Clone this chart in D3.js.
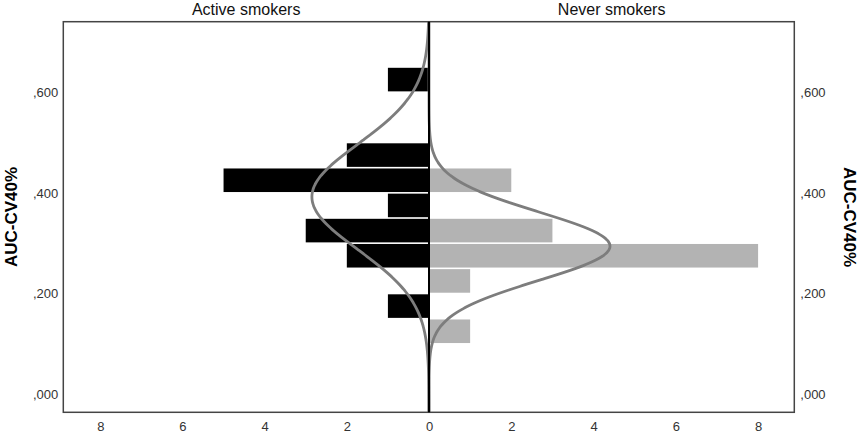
<!DOCTYPE html>
<html>
<head>
<meta charset="utf-8">
<script src="https://cdn.jsdelivr.net/npm/d3@7"></script>
<style>
  html, body { margin: 0; padding: 0; background: #fff; }
  svg { display: block; font-family: "Liberation Sans", Arial, sans-serif; }
</style>
</head>
<body>
<svg id="chart" width="858" height="433"></svg>
<script>
// Histogram bins (lower edge of each AUC-CV40% bin, width 0.05)
const binStarts = [0.10, 0.15, 0.20, 0.25, 0.30, 0.35, 0.40, 0.45, 0.50, 0.55, 0.60];
const activeCounts = [0, 1, 0, 2, 3, 1, 5, 2, 0, 0, 1];
const neverCounts  = [1, 0, 1, 8, 3, 0, 2, 0, 0, 0, 0];
const BIN_WIDTH = 0.05;

const groups = ['Active smokers', 'Never smokers'];

// fitted normal curves (mean, sd)
const fitMeans = [0.392, 0.294];
const fitSDs   = [0.105, 0.068];

const yTicks = [0, 0.2, 0.4, 0.6];
const xTicks = [0, 2, 4, 6, 8];

const svg = d3.select('#chart');

const TOP = 21.7, BOTTOM = 412.3;
const LEFT = 63.3, MID = 429, RIGHT = 794.3;

const y = d3.scaleLinear().domain([-0.036, 0.74]).range([BOTTOM, TOP]);
const xL = d3.scaleLinear().domain([0, 8.9]).range([MID, LEFT]);
const xR = d3.scaleLinear().domain([0, 8.88]).range([MID, RIGHT]);

const fmt = v => d3.format('.3f')(v).replace(/^0\./, ',');

// clip for curves
svg.append('clipPath').attr('id', 'plot-clip')
  .append('rect')
    .attr('x', LEFT).attr('y', TOP)
    .attr('width', RIGHT - LEFT).attr('height', BOTTOM - TOP);

////////////
// Bars   //
////////////

function drawBars(counts, xScale, fill) {
  const data = binStarts.map((b, i) => ({ lo: b, hi: b + BIN_WIDTH, n: counts[i] }))
    .filter(d => d.n > 0);
  svg.append('g')
    .selectAll('rect')
    .data(data)
    .enter()
    .append('rect')
      .attr('x', d => Math.min(xScale(0), xScale(d.n)))
      .attr('width', d => Math.abs(xScale(d.n) - xScale(0)))
      .attr('y', d => y(d.hi) + 0.8)
      .attr('height', d => y(d.lo) - y(d.hi) - 1.6)
      .attr('fill', fill);
}

drawBars(activeCounts, xL, '#000000');
drawBars(neverCounts, xR, '#b3b3b3');

////////////
// Curves //
////////////

const SQRT2PI = Math.sqrt(2 * Math.PI);
const yVals = d3.range(-0.04, 0.7501, 0.002);

function drawCurve(counts, mean, sd, xScale) {
  const n = d3.sum(counts);
  const scaleFactor = n * BIN_WIDTH / (sd * SQRT2PI);
  const pts = yVals.map(v => [v, scaleFactor * Math.exp(-0.5 * ((v - mean) / sd) ** 2)]);
  svg.append('path')
    .datum(pts)
    .attr('clip-path', 'url(#plot-clip)')
    .attr('fill', 'none')
    .attr('stroke', '#7d7d7d')
    .attr('stroke-width', 2.8)
    .attr('d', d3.line().x(d => xScale(d[1])).y(d => y(d[0])).curve(d3.curveBasis));
}

drawCurve(activeCounts, fitMeans[0], fitSDs[0], xL);
drawCurve(neverCounts, fitMeans[1], fitSDs[1], xR);

///////////
// Frame //
///////////

svg.append('rect')
  .attr('x', LEFT).attr('y', TOP)
  .attr('width', RIGHT - LEFT).attr('height', BOTTOM - TOP)
  .attr('fill', 'none')
  .attr('stroke', '#444')
  .attr('stroke-width', 1.5);

svg.append('line')
  .attr('x1', MID).attr('x2', MID)
  .attr('y1', TOP).attr('y2', BOTTOM)
  .attr('stroke', '#000')
  .attr('stroke-width', 2);

//////////
// Axes //
//////////

function styleAxis(g) {
  g.select('.domain').remove();
  g.selectAll('text')
    .attr('fill', '#333')
    .style('font-size', '13px')
    .style('font-family', '"Liberation Sans", Arial, sans-serif');
}

svg.append('g')
  .attr('transform', `translate(${LEFT},0)`)
  .call(d3.axisLeft(y).tickValues(yTicks).tickSize(0).tickPadding(5).tickFormat(fmt))
  .call(styleAxis);

svg.append('g')
  .attr('transform', `translate(${RIGHT},0)`)
  .call(d3.axisRight(y).tickValues(yTicks).tickSize(0).tickPadding(6).tickFormat(fmt))
  .call(styleAxis);

svg.append('g')
  .attr('transform', `translate(0,${BOTTOM})`)
  .call(d3.axisBottom(xL).tickValues(xTicks.filter(t => t > 0)).tickSize(0).tickPadding(9))
  .call(styleAxis);

svg.append('g')
  .attr('transform', `translate(0,${BOTTOM})`)
  .call(d3.axisBottom(xR).tickValues(xTicks).tickSize(0).tickPadding(9))
  .call(styleAxis);

////////////
// Titles //
////////////

svg.append('text')
  .attr('x', (LEFT + MID) / 2).attr('y', 14.5)
  .attr('text-anchor', 'middle')
  .attr('fill', '#111')
  .style('font-size', '16px')
  .text(groups[0]);

svg.append('text')
  .attr('x', (MID + RIGHT) / 2).attr('y', 14.5)
  .attr('text-anchor', 'middle')
  .attr('fill', '#111')
  .style('font-size', '16px')
  .text(groups[1]);

const midY = (TOP + BOTTOM) / 2;

svg.append('text')
  .attr('transform', `translate(17,${midY}) rotate(-90)`)
  .attr('text-anchor', 'middle')
  .attr('font-weight', 'bold')
  .attr('fill', '#000')
  .style('font-size', '17px')
  .text('AUC-CV40%');

svg.append('text')
  .attr('transform', `translate(843.5,${midY}) rotate(90)`)
  .attr('text-anchor', 'middle')
  .attr('font-weight', 'bold')
  .attr('fill', '#000')
  .style('font-size', '17px')
  .text('AUC-CV40%');
</script>
</body>
</html>
